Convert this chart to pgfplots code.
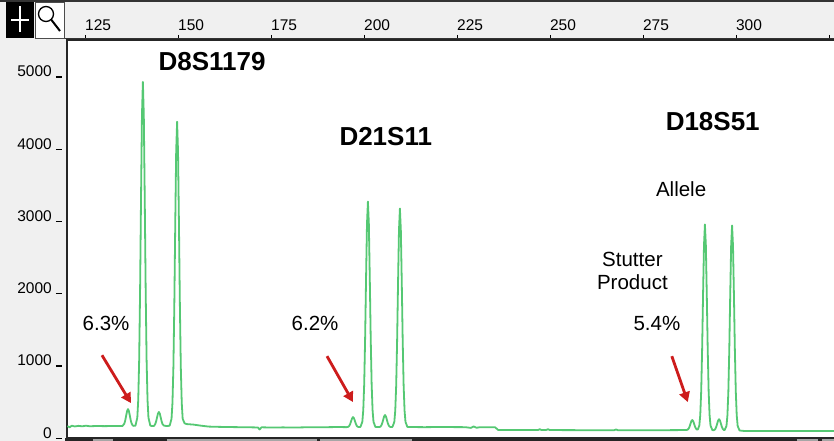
\documentclass[border=0pt]{standalone}
\usepackage{pgfplots}
\pgfplotsset{compat=1.18}
\usepackage{fontspec}
\setmainfont{Liberation Sans}
\usetikzlibrary{arrows.meta}
\definecolor{trace}{RGB}{85,200,115}
\definecolor{arrowred}{RGB}{205,28,28}
\definecolor{panel}{RGB}{240,240,240}
\newcommand{\tk}[1]{#1\hspace{4pt}\rule[-0.8pt]{6pt}{1.3pt}}
\begin{document}
\begin{tikzpicture}[x=1pt,y=1pt]
\useasboundingbox (0,0) rectangle (834,441);
\fill[panel] (0,0) rectangle (834,441);
% top line
\fill[black!80] (0,439) rectangle (834,441);
% icons
\fill[black] (6,403) rectangle (34,439);
\draw[white, line width=2pt] (20,409) -- (20,435) (11,421) -- (29,421);
\fill[white] (35,403) rectangle (64,439);
\draw[black!70, line width=0.6pt] (35,403) rectangle (64,439);
\draw[black, line width=1.3pt] (46,427) circle (7.5);
\draw[black, line width=2pt] (51.5,421) -- (60,410);
% bottom strip
\fill[black!85] (65,0) rectangle (840,3);
\fill[black!35] (93,0) rectangle (113,1.5);
\fill[black!35] (167,0) rectangle (317,1.5);
\fill[black!35] (320,0) rectangle (412,1.5);
\fill[black!35] (797,0) rectangle (818,1.5);
\fill[black!35] (822,0) rectangle (834,1.5);
\begin{axis}[
  at={(67pt,3pt)}, anchor=south west, scale only axis,
  width=771pt, height=398pt,
  xmin=119.9, xmax=327.18, ymin=0, ymax=5510,
  axis background/.style={fill=white},
  axis line style={draw=black!85, line width=1.8pt},
  xtick={125,150,...,325},
  xticklabels={125,150,175,200,225,250,275,300,{}},
  xtick pos=upper, xticklabel pos=upper,
  ytick pos=left,
  tick align=outside,
  major tick length=5pt,
  xtick style={draw=black, line width=1pt},
  ytick style={draw=none},
  ytick={0,1000,2000,3000,4000,5000},
  yticklabels={\tk{0},\tk{1000},\tk{2000},\tk{3000},\tk{4000},\tk{5000}},
  yticklabel style={anchor=base east, inner sep=0pt, xshift=0pt, font=\fontsize{15.5}{18}\selectfont, text=black},
  xticklabel style={anchor=south west, inner sep=0pt, xshift=-1pt, yshift=4pt, font=\fontsize{15.5}{18}\selectfont, text=black},
  /pgf/number format/assume math mode=true,
  clip=true,
]
\addplot[trace, line width=1.8pt, line join=round] coordinates {
(120.0,165) (120.6,148) (121.2,170) (122,160) (123,168) (124,162) (125,170) (126,163) (128,166) (130,164) (132,166) (134,165) (134.8,166)
(135.3,197) (135.55,241) (135.8,308) (136.05,372) (136.3,400) (136.55,372) (136.8,308) (137.05,241) (137.3,197) (137.55,175) (137.8,168)
(138.3,171) (138.8,281) (139.05,525) (139.3,1075) (139.55,2048) (139.8,3320) (140.05,4464) (140.3,4931) (140.55,4464) (140.8,3320) (141.05,2048) (141.3,1075) (141.55,525) (141.8,281) (142.3,171) (142.8,165) (143.3,168)
(143.6,191) (143.85,228) (144.1,283) (144.35,337) (144.6,360) (144.85,337) (145.1,283) (145.35,228) (145.6,191) (146.0,170) (146.8,166) (147.5,170)
(148.0,266) (148.25,483) (148.5,970) (148.75,1829) (149.0,2954) (149.25,3965) (149.5,4378) (149.75,3965) (150.0,2954) (150.25,1829) (150.5,970) (150.75,483) (151.0,266) (151.5,205) (152,193)
(154,185) (156,170) (158,158) (160,155) (163,152) (166,150) (169,148) (171.2,146) (171.7,118) (172.2,148) (175,145) (178,147) (181,145) (184,148) (187,150) (190,150) (193,152) (195,150)
(195.3,152) (195.55,156) (195.8,169) (196.05,196) (196.3,235) (196.55,273) (196.8,290) (197.05,273) (197.3,235) (197.55,196) (197.8,169) (198.05,156) (198.3,152)
(198.8,154) (199.3,225) (199.55,386) (199.8,746) (200.05,1384) (200.3,2217) (200.55,2967) (200.8,3273) (201.05,2967) (201.3,2217) (201.55,1384) (201.8,746) (202.05,386) (202.3,225) (202.8,154)
(203.9,152) (204.15,157) (204.4,173) (204.65,205) (204.9,252) (205.15,298) (205.4,318) (205.65,298) (205.9,252) (206.15,205) (206.4,173) (206.65,157) (206.9,152)
(207.4,154) (207.9,223) (208.15,379) (208.4,728) (208.65,1346) (208.9,2154) (209.15,2880) (209.4,3177) (209.65,2880) (209.9,2154) (210.15,1346) (210.4,728) (210.65,379) (210.9,223) (211.4,154)
(212,152) (216,150) (220,152) (227,150) (228.5,140) (229.2,160) (230,142) (231,150) (233,150) (235,148) (235.8,112) (240,110) (246.5,110) (247,122) (247.5,110) (248.7,110) (249.2,122) (249.7,110) (260,108) (267,108) (267.5,118) (268,108) (280,108) (286,110)
(286.5,112) (286.75,116) (287.0,129) (287.25,155) (287.5,194) (287.75,233) (288.0,249) (288.25,233) (288.5,194) (288.75,155) (289.0,129) (289.25,116) (289.5,119)
(289.9,173) (290.15,320) (290.4,649) (290.65,1229) (290.9,1989) (291.15,2672) (291.4,2956) (291.65,2672) (291.9,1989) (292.15,1229) (292.4,649) (292.65,320) (292.9,173) (293.4,110)
(293.7,107) (293.95,112) (294.2,126) (294.45,155) (294.7,199) (294.95,242) (295.2,260) (295.45,242) (295.7,199) (295.95,155) (296.2,126) (296.45,112) (296.7,110)
(297.2,168) (297.45,315) (297.7,642) (297.95,1222) (298.2,1980) (298.45,2662) (298.7,2942) (298.95,2662) (299.2,1980) (299.45,1222) (299.7,642) (299.95,315) (300.2,168) (300.7,104)
(302,97) (310,97) (320,97) (327.18,97)
};
% labels
\node[font=\fontsize{26}{30}\selectfont\bfseries] at (axis cs:158.9,5207) {D8S1179};
\node[font=\fontsize{26}{30}\selectfont\bfseries] at (axis cs:205.6,4171) {D21S11};
\node[font=\fontsize{26}{30}\selectfont\bfseries] at (axis cs:293.5,4378) {D18S51};
\node[font=\fontsize{20.5}{24}\selectfont] at (axis cs:285.0,3439) {Allele};
\node[font=\fontsize{20.5}{23.5}\selectfont, align=center] at (axis cs:271.9,2314) {Stutter\\Product};
\node[font=\fontsize{20.5}{24}\selectfont] at (axis cs:130.4,1588) {6.3\%};
\node[font=\fontsize{20.5}{24}\selectfont] at (axis cs:186.6,1588) {6.2\%};
\node[font=\fontsize{20.5}{24}\selectfont] at (axis cs:278.5,1588) {5.4\%};
% arrows
\draw[arrowred, line width=2.8pt, -{Triangle[length=10pt,width=10.5pt]}] (axis cs:129.3,1146) -- (axis cs:137.1,483);
\draw[arrowred, line width=2.8pt, -{Triangle[length=10pt,width=10.5pt]}] (axis cs:189.8,1133) -- (axis cs:196.8,497);
\draw[arrowred, line width=2.8pt, -{Triangle[length=10pt,width=10.5pt]}] (axis cs:282.5,1133) -- (axis cs:286.8,497);
\end{axis}
% header separator line
\draw[black!80, line width=1.2pt] (65,402.5) -- (840,402.5);
\end{tikzpicture}
\end{document}
